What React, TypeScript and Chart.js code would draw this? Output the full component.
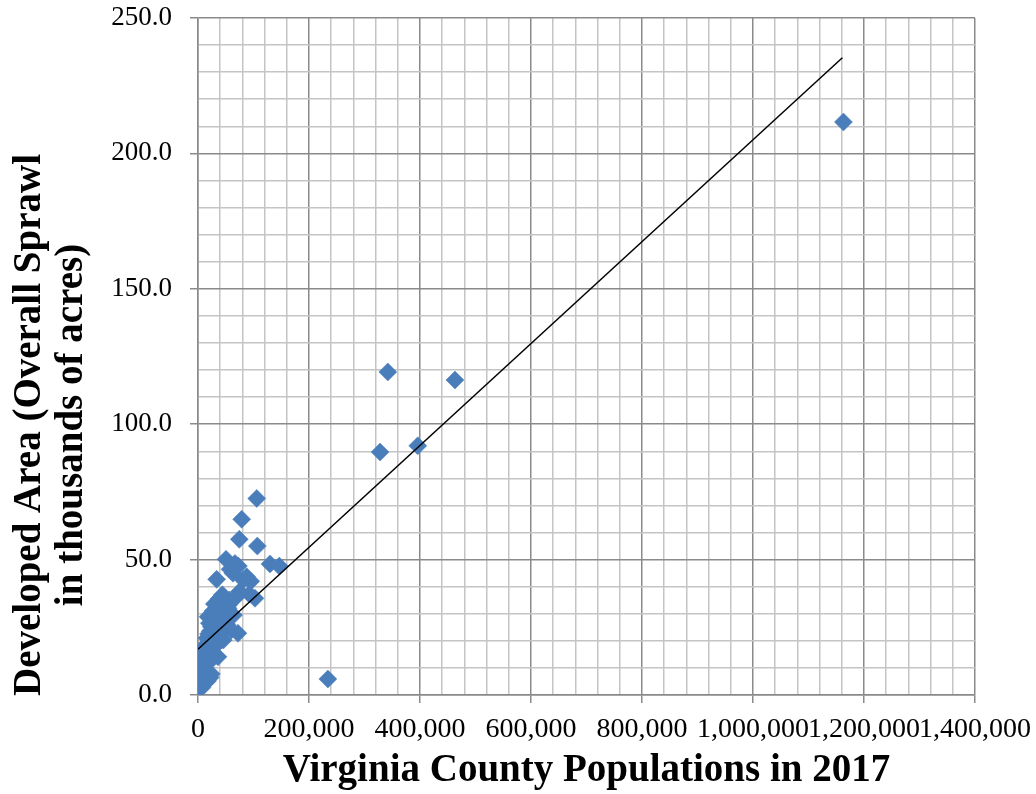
import React, { useEffect, useRef } from 'react';
import { Chart, registerables } from 'chart.js';

Chart.register(...registerables);

// County / city populations (2017) and developed area (thousands of acres)
const population = [
  1163000, 463000, 342000, 328000, 396000, 234000,
  146500, 129700, 106900, 105800, 78700, 74400, 50500, 66700, 72700, 57700,
  87700, 81700, 33600, 74400, 92400, 102700, 56400, 32400, 42000, 48100,
  72000, 60000, 42000, 64000, 54600, 29400, 24600, 20400, 45600,
  18000, 24000, 28000, 30000, 36000, 38000, 44000, 52000, 34000, 27000,
  22000, 26000, 32000, 36000, 24000, 6000, 2000, 18000, 6000, 15000,
  2000, 6000, 3000, 4000, 5500, 5300, 6600, 7000, 6500, 9000, 13000,
  17000, 22000, 24000, 2200, 2500, 3000, 7500, 12000, 14000, 2200, 4300,
  7000, 9000, 11000, 6500, 13000, 15000, 12500, 17000, 21000, 23000,
  18000, 25000, 28000, 30000, 20000, 26000, 35000, 40000, 22000, 29000,
  34000, 25000, 31000, 36000, 42000, 48000, 14000, 16000, 10000, 8000,
  11000, 19000, 33000, 46000, 54000, 38000, 44000, 63000, 95000, 68000,
];
const developedArea = [
  211.6, 116.3, 119.3, 89.7, 92.0, 5.9,
  47.6, 48.4, 55.0, 72.6, 64.9, 57.5, 50.1, 48.6, 47.6, 46.4,
  43.7, 42.5, 42.7, 38.1, 37.3, 35.7, 35.1, 33.9, 32.6, 28.3,
  22.8, 24.0, 20.3, 29.5, 33.2, 33.6, 28.9, 26.5, 20.3,
  28.9, 25.2, 27.5, 24.5, 26.0, 22.5, 24.5, 26.0, 30.5, 31.0,
  22.0, 20.0, 19.0, 14.1, 16.6, 16.6, 13.5, 11.7, 9.2, 7.4,
  5.5, 3.7, 2.5, 2.5, 3.0, 3.5, 4.0, 2.8, 3.2, 4.5, 5.5,
  5.2, 6.5, 7.8, 4.2, 5.5, 6.5, 6.8, 7.5, 8.2, 7.0, 9.0,
  10.5, 11.5, 12.5, 12.8, 13.0, 14.0, 15.5, 15.0, 14.5, 16.5,
  17.0, 18.0, 17.5, 20.0, 19.5, 21.5, 22.0, 20.5, 23.5, 24.5,
  26.0, 26.5, 28.0, 29.5, 31.0, 30.0, 18.5, 21.0, 10.0, 8.0,
  16.0, 22.5, 23.0, 27.0, 32.0, 35.5, 37.0, 45.0, 42.0, 36.0,
];

// Linear trend line endpoints
const trendPopulation = [0, 1161000];
const trendArea = [16.9, 235.3];

const xAxisTitle = 'Virginia County Populations in 2017';
const yAxisTitle = ['Developed Area (Overall Sprawl', 'in thousands of acres)'];

const FONT = '"Liberation Serif", "Times New Roman", serif';

const yTitlePlugin = {
  id: 'yTitleLines',
  afterDraw(chart: any) {
    const { ctx, chartArea } = chart;
    ctx.save();
    ctx.font = `bold 39px ${FONT}`;
    ctx.fillStyle = '#000000';
    ctx.textAlign = 'center';
    ctx.textBaseline = 'middle';
    ctx.translate(30, chartArea.bottom - 270);
    ctx.rotate(-Math.PI / 2);
    ctx.fillText(yAxisTitle[0], 0, 0);
    ctx.fillText(yAxisTitle[1], 0, 42);
    ctx.restore();
  },
};

const MAJOR = '#8a8a8a';
const MINOR = '#c4c4c4';

export default function App() {
  const ref = useRef<HTMLCanvasElement | null>(null);

  useEffect(() => {
    document.body.style.margin = '0';
    if (!ref.current) return;
    const points = population.map((p, i) => ({ x: p, y: developedArea[i] }));
    const trend = trendPopulation.map((p, i) => ({ x: p, y: trendArea[i] }));
    const chart = new Chart(ref.current, {
      type: 'scatter',
      data: {
        datasets: [
          {
            label: 'Linear trend',
            data: trend,
            showLine: true,
            borderColor: '#000000',
            borderWidth: 1.5,
            pointRadius: 0,
            fill: false,
          } as any,
          {
            label: 'Counties',
            data: points,
            pointStyle: 'rectRot',
            pointRadius: 9,
            backgroundColor: '#4a7ebb',
            borderColor: '#4a7ebb',
            borderWidth: 0.5,
          },
        ],
      },
      options: {
        responsive: false,
        animation: false,
        layout: { padding: { left: 0, right: 61, top: 18, bottom: 0 } },
        plugins: {
          legend: { display: false },
          tooltip: { enabled: false },
        },
        scales: {
          x: {
            type: 'linear',
            min: 0,
            max: 1400000,
            afterFit: (s: any) => {
              s.height = 99;
              s.paddingLeft = 0;
              s.paddingRight = 0;
            },
            border: { color: MAJOR, width: 1.5 },
            grid: {
              lineWidth: 1.5,
              color: (c: any) => (c.tick && c.tick.value % 200000 === 0 ? MAJOR : MINOR),
              tickColor: (c: any) => (c.tick && c.tick.value % 200000 === 0 ? MAJOR : 'rgba(0,0,0,0)'),
              tickLength: 8,
            },
            ticks: {
              stepSize: 40000,
              autoSkip: false,
              maxRotation: 0,
              padding: 10,
              color: '#000000',
              font: { family: FONT, size: 28 },
              callback: (v: any) => (Number(v) % 200000 === 0 ? Number(v).toLocaleString('en-US') : ''),
            },
            title: {
              display: true,
              text: xAxisTitle,
              color: '#000000',
              font: { family: FONT, size: 39, weight: 'bold' },
              padding: { top: 0, bottom: 0 },
            },
          },
          y: {
            type: 'linear',
            min: 0,
            max: 250,
            afterFit: (s: any) => {
              s.width = 198;
              s.paddingTop = 0;
              s.paddingBottom = 0;
            },
            border: { color: MAJOR, width: 1.5 },
            grid: {
              lineWidth: 1.5,
              color: (c: any) => (c.tick && c.tick.value % 50 === 0 ? MAJOR : MINOR),
              tickColor: (c: any) => (c.tick && c.tick.value % 50 === 0 ? MAJOR : 'rgba(0,0,0,0)'),
              tickLength: 8,
            },
            ticks: {
              stepSize: 10,
              autoSkip: false,
              padding: 18,
              color: '#000000',
              font: { family: FONT, size: 27 },
              callback: (v: any) => (Number(v) % 50 === 0 ? Number(v).toFixed(1) : ''),
            },
          },
        },
      },
      plugins: [yTitlePlugin],
    });
    return () => chart.destroy();
  }, []);

  return (
    <div style={{ width: 1036, height: 794 }}>
      <canvas ref={ref} width={1036} height={794} />
    </div>
  );
}
